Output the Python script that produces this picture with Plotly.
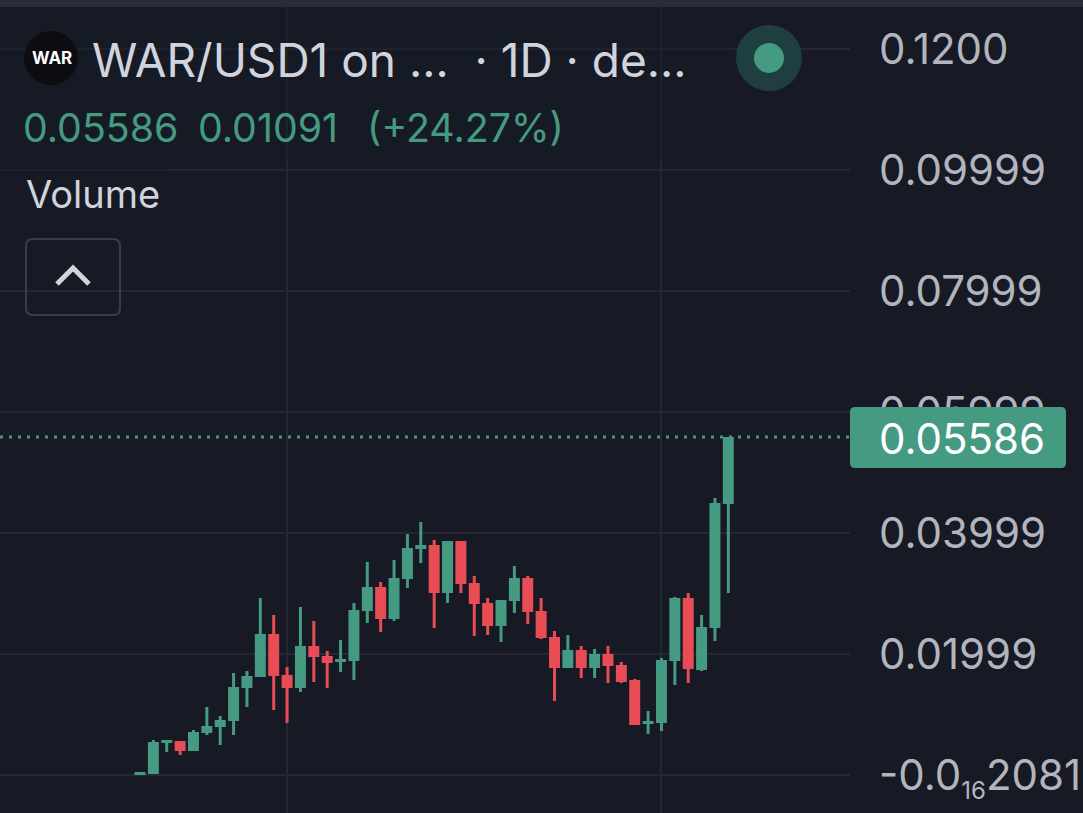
import plotly.graph_objects as go

W, H = 1083, 813

open_ = [0.0, .00017, .00529, .00562, .00397, .00694, .00793, .00893, .01438, .0162, .02331, .01653, .01438, .02132, .01967,
         .01868, .01884, .02711, .03108, .02579, .0324, .03736, .03802, .03008, .03868, .03174, .02843, .02463, .02876, .03256,
         .02711, .02281, .01769, .02066, .01769, .02, .01818, .0157, .00843, .0086, .01884, .02926, .01736, .0243, .0448]
high = [.0005, .00579, .00579, .00562, .00744, .01124, .00975, .01686, .01719, .02926, .02645, .01785, .02777, .02546, .0205,
        .02232, .02843, .03521, .0319, .03554, .03984, .04182, .03885, .03868, .03868, .03289, .02926, .02893, .03455, .03289,
        .02926, .0238, .02314, .02132, .02083, .02132, .01868, .01587, .01058, .01934, .02942, .03008, .02645, .04579, .05586]
low = [0.0, .00017, .0038, .00331, .00397, .00661, .00496, .00661, .01124, .0162, .01074, .0086, .01372, .01537, .01438,
       .01703, .0157, .02513, .02364, .02546, .03091, .03504, .0243, .02843, .03008, .02298, .02314, .02198, .02678, .02496,
       .02248, .01223, .01769, .01603, .01603, .01521, .01521, .00826, .00678, .00727, .01488, .01521, .01719, .02215, .03008]
close = [.0005, .00545, .00579, .00397, .00711, .0081, .00909, .01455, .01636, .02331, .01636, .01438, .02132, .01951, .01851,
         .01917, .02727, .03108, .02579, .03256, .03752, .03802, .03008, .03868, .03157, .02827, .02463, .02893, .03256, .02694,
         .02265, .01769, .02066, .01769, .02, .01802, .01537, .00826, .00893, .01901, .02926, .01752, .02446, .04496, .05586]
days = list(range(len(close)))

price_ticks = [0, .02, .04, .06, .08, .10, .12]
price_labels = ['-0.0<sub><span style="font-size:24px">16</span></sub>2081', "0.01999", "0.03999", "0.05999", "0.07999", "0.09999", "0.1200"]
day_grid = [11, 39]

GREEN, RED = "#459A82", "#E84C55"
BG, GRID = "#171A25", "#252833"
TEXT, AXIS = "#D1D4DC", "#B2B5BE"
FONT = "Inter"


def X(px):
    return px / W


def Y(py):
    return 1 - py / H


def wicks(up):
    xs, ys = [], []
    for d, o, h, l, c in zip(days, open_, high, low, close):
        if (c >= o) == up:
            xs += [d, d, None]
            ys += [l, h, None]
    return go.Scatter(x=xs, y=ys, mode="lines", hoverinfo="skip", showlegend=False,
                      line=dict(color=GREEN if up else RED, width=3))


fig = go.Figure()
fig.add_trace(wicks(True))
fig.add_trace(wicks(False))
fig.add_trace(go.Candlestick(
    x=days, open=open_, high=high, low=low, close=close, showlegend=False,
    whiskerwidth=0,
    increasing=dict(line=dict(color=GREEN, width=0), fillcolor=GREEN),
    decreasing=dict(line=dict(color=RED, width=0), fillcolor=RED),
))


def rrect(x0, y0, x1, y1, r):
    return (f"M{X(x0 + r)},{Y(y0)} L{X(x1 - r)},{Y(y0)} Q{X(x1)},{Y(y0)} {X(x1)},{Y(y0 + r)} "
            f"L{X(x1)},{Y(y1 - r)} Q{X(x1)},{Y(y1)} {X(x1 - r)},{Y(y1)} L{X(x0 + r)},{Y(y1)} "
            f"Q{X(x0)},{Y(y1)} {X(x0)},{Y(y1 - r)} L{X(x0)},{Y(y0 + r)} Q{X(x0)},{Y(y0)} {X(x0 + r)},{Y(y0)} Z")


def circle(cx, cy, r, color):
    return dict(type="circle", xref="paper", yref="paper", x0=X(cx - r), x1=X(cx + r),
                y0=Y(cy + r), y1=Y(cy - r), fillcolor=color, line=dict(width=0), layer="above")


def panel(x0, y0, x1, y1, alpha):
    return dict(type="rect", xref="paper", yref="paper", x0=X(x0), x1=X(x1), y0=Y(y1), y1=Y(y0),
                fillcolor=f"rgba(23,26,37,{alpha})", line=dict(width=0), layer="above")


def label(px, py, text, size, color, anchor="left", bold=False):
    return dict(xref="paper", yref="paper", x=X(px), y=Y(py), text=f"<b>{text}</b>" if bold else text,
                xanchor=anchor, yanchor="middle", showarrow=False, borderpad=0,
                font=dict(family=FONT, size=size, color=color))


shapes = [
    dict(type="rect", xref="paper", yref="paper", x0=0, x1=1, y0=Y(7), y1=1,
         fillcolor="#2A2D39", line=dict(width=0), layer="above"),
    panel(0, 7, 730, 160, 0.45),
    panel(0, 160, 170, 178, 0.45),
    dict(type="line", xref="paper", yref="y", x0=0, x1=X(850), y0=close[-1], y1=close[-1],
         line=dict(color=GREEN, width=3, dash="3px,6px"), layer="above"),
    dict(type="path", xref="paper", yref="paper", path=rrect(850, 407, 1066, 468, 5),
         fillcolor=GREEN, line=dict(width=0), layer="above"),
    circle(51, 58, 27, "#0D0C10"),
    circle(769, 58, 33, "#1F3E40"),
    circle(769, 58, 15, GREEN),
    dict(type="path", xref="paper", yref="paper", path=rrect(26, 239, 120, 315, 7),
         fillcolor="rgba(0,0,0,0)", line=dict(color="#3A3D49", width=2), layer="above"),
    dict(type="path", xref="paper", yref="paper",
         path=f"M{X(57)},{Y(284)} L{X(73)},{Y(268)} L{X(89)},{Y(284)}",
         line=dict(color=TEXT, width=5), layer="above"),
]

annotations = [
    label(31, 58, "WAR", 17, "#FFFFFF", bold=True),
    label(91, 60, "WAR/USD1 on ...  · 1D · de...", 46, TEXT),
    label(22, 127, "0.05586", 39.3, GREEN),
    label(197, 127, "0.01091", 39.3, GREEN),
    label(366, 127, "(+24.27%)", 39.3, GREEN),
    label(25, 194, "Volume", 38, TEXT),
    label(878, 438, "0.05586", 42, "#FFFFFF"),
]

fig.update_layout(
    width=W, height=H, margin=dict(l=0, r=0, t=0, b=0, pad=0),
    paper_bgcolor=BG, plot_bgcolor=BG, showlegend=False, boxgap=0.18, boxgroupgap=0,
    font=dict(family=FONT),
    shapes=shapes, annotations=annotations,
    xaxis=dict(domain=[0, X(850)], range=[-10.47, 53.1], tickvals=day_grid, showticklabels=False,
               gridcolor=GRID, gridwidth=2, zeroline=False, showline=False, rangeslider=dict(visible=False), ticks=""),
    yaxis=dict(side="right", range=[-0.00628, 0.1281], tickvals=price_ticks, ticktext=price_labels,
               gridcolor=GRID, gridwidth=2, zeroline=False, showline=False, ticks="", ticklabelstandoff=28,
               tickfont=dict(family=FONT, size=42, color=AXIS)),
)

fig.write_html("out.html", config=dict(displayModeBar=False),
               post_script="document.body.style.margin='0';document.body.style.background='#171A25';")
